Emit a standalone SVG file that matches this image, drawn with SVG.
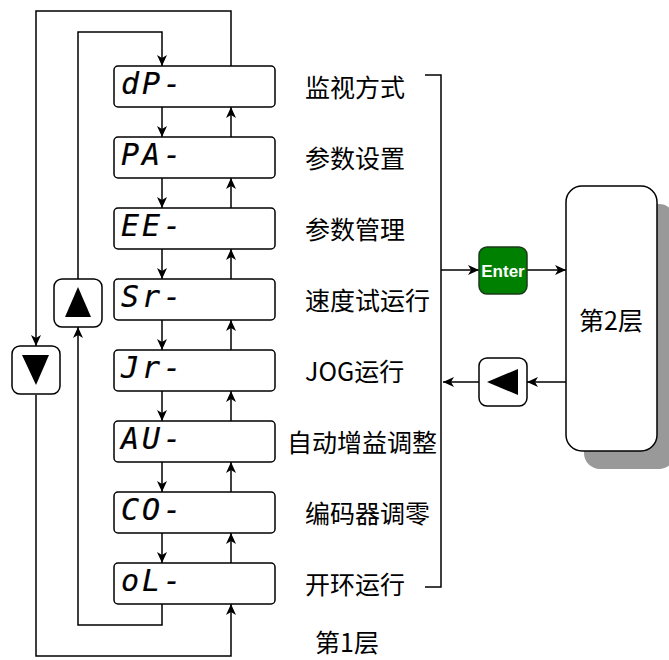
<svg xmlns="http://www.w3.org/2000/svg" width="669" height="660" viewBox="0 0 669 660">
<style>
.box{fill:#fff;stroke:#000;stroke-width:1.5}
.seg{font-family:"DejaVu Sans Mono","Liberation Mono",monospace;font-style:italic;font-size:30px;letter-spacing:3px;fill:#000;stroke:#000;stroke-width:0.2}
.lbl{font-family:"Noto Sans CJK SC",sans-serif;font-size:25px;fill:#000;dominant-baseline:central}
.ln{fill:none;stroke:#000;stroke-width:1.5}
</style>
<defs>
<marker id="ah" markerUnits="userSpaceOnUse" markerWidth="12" markerHeight="12" refX="11" refY="5" orient="auto">
<path d="M0,0 L11,5 L0,10 L3,5 z" fill="#000"/>
</marker>
</defs>
<g id="connectors">
<path class="ln" d="M162,107V137" marker-end="url(#ah)"/>
<path class="ln" d="M162,178V208" marker-end="url(#ah)"/>
<path class="ln" d="M162,249V279" marker-end="url(#ah)"/>
<path class="ln" d="M162,320V350" marker-end="url(#ah)"/>
<path class="ln" d="M162,391V421" marker-end="url(#ah)"/>
<path class="ln" d="M162,462V492" marker-end="url(#ah)"/>
<path class="ln" d="M162,533V563" marker-end="url(#ah)"/>
<path class="ln" d="M231,137V107" marker-end="url(#ah)"/>
<path class="ln" d="M231,208V178" marker-end="url(#ah)"/>
<path class="ln" d="M231,279V249" marker-end="url(#ah)"/>
<path class="ln" d="M231,350V320" marker-end="url(#ah)"/>
<path class="ln" d="M231,421V391" marker-end="url(#ah)"/>
<path class="ln" d="M231,492V462" marker-end="url(#ah)"/>
<path class="ln" d="M231,563V533" marker-end="url(#ah)"/>
<path class="ln" d="M162,604V625H78V327" marker-end="url(#ah)"/>
<path class="ln" d="M78,279V32H162V66" marker-end="url(#ah)"/>
<path class="ln" d="M231,66V11H36V346" marker-end="url(#ah)"/>
<path class="ln" d="M36,395V656H231V604" marker-end="url(#ah)"/>
<path class="ln" d="M425,75H441V587H425"/>
<path class="ln" d="M441,270H479" marker-end="url(#ah)"/>
<path class="ln" d="M527,270H566" marker-end="url(#ah)"/>
<path class="ln" d="M566,382H527" marker-end="url(#ah)"/>
<path class="ln" d="M479,382H443" marker-end="url(#ah)"/>
</g>
<g id="n-dP"><rect class="box" x="114" y="66" width="161" height="41" rx="4"/><text class="seg" x="121" y="94">dP-</text></g>
<g id="n-PA"><rect class="box" x="114" y="137" width="161" height="41" rx="4"/><text class="seg" x="121" y="165">PA-</text></g>
<g id="n-EE"><rect class="box" x="114" y="208" width="161" height="41" rx="4"/><text class="seg" x="121" y="236">EE-</text></g>
<g id="n-Sr"><rect class="box" x="114" y="279" width="161" height="41" rx="4"/><text class="seg" x="121" y="307">Sr-</text></g>
<g id="n-Jr"><rect class="box" x="114" y="350" width="161" height="41" rx="4"/><text class="seg" x="121" y="378">Jr-</text></g>
<g id="n-AU"><rect class="box" x="114" y="421" width="161" height="41" rx="4"/><text class="seg" x="121" y="449">AU-</text></g>
<g id="n-CO"><rect class="box" x="114" y="492" width="161" height="41" rx="4"/><text class="seg" x="121" y="520">CO-</text></g>
<g id="n-oL"><rect class="box" x="114" y="563" width="161" height="41" rx="4"/><text class="seg" x="121" y="591">oL-</text></g>
<g id="labels">
<text class="lbl" x="305" y="86">监视方式</text>
<text class="lbl" x="305" y="157">参数设置</text>
<text class="lbl" x="305" y="228">参数管理</text>
<text class="lbl" x="305" y="299">速度试运行</text>
<text class="lbl" x="305" y="370">JOG运行</text>
<text class="lbl" x="287" y="441">自动增益调整</text>
<text class="lbl" x="305" y="512">编码器调零</text>
<text class="lbl" x="305" y="583">开环运行</text>
<text class="lbl" x="347" y="641" text-anchor="middle" font-size="23">第1层</text>
</g>
<g id="btn-up"><rect class="box" x="54" y="279" width="48" height="48" rx="8"/><path d="M78,287L91,317H65z" fill="#000"/></g>
<g id="btn-down"><rect class="box" x="12" y="346" width="48" height="48" rx="8"/><path d="M22,355H49L36,385z" fill="#000"/></g>
<g id="btn-enter"><rect x="479" y="247" width="48" height="47" rx="8" fill="#008000" stroke="#1a3a1a" stroke-width="1.5"/><text x="503" y="276.5" text-anchor="middle" font-family="Liberation Sans,Arial,sans-serif" font-weight="bold" font-size="17" fill="#fff">Enter</text></g>
<g id="btn-back"><rect class="box" x="479" y="358" width="48" height="48" rx="8"/><path d="M487,382L518,369V395z" fill="#000"/></g>
<g id="layer2"><rect x="584" y="204" width="91" height="265" rx="16" fill="#999"/><rect class="box" x="566" y="186" width="91" height="265" rx="16"/><text class="lbl" x="611" y="319" text-anchor="middle">第2层</text></g>
</svg>
